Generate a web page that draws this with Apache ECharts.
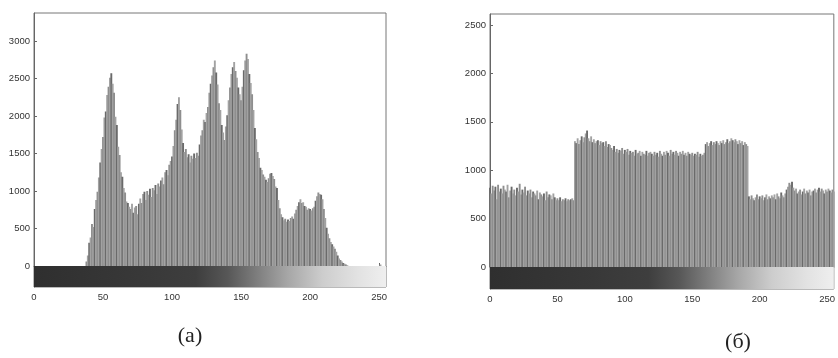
<!DOCTYPE html>
<html>
<head>
<meta charset="utf-8">
<script src="https://cdn.jsdelivr.net/npm/echarts@6/dist/echarts.min.js"></script>
<style>
html,body{margin:0;padding:0;background:#fff;}
#c{width:838px;height:358px;}
</style>
</head>
<body>
<div id="c"></div>
<script>
// Gray-level bins 0..255
const xTicks = [0, 50, 100, 150, 200, 250];
const yTicksA = [0, 500, 1000, 1500, 2000, 2500, 3000];
const yTicksB = [0, 500, 1000, 1500, 2000, 2500];
const captionA = '(a)';
const captionB = '(б)';

// Histogram (a): pixel counts per gray level
const histA = [
  0,0,0,0,0,0,0,0,0,0,
  0,0,0,0,0,0,0,0,0,0,
  0,0,0,0,0,0,0,0,0,0,
  0,0,0,0,0,0,0,0,60,140,
  310,380,560,520,760,880,990,1180,1380,1560,
  1720,1980,2060,2280,2390,2510,2570,2430,2310,1990,
  1880,1590,1480,1250,1190,1040,980,860,840,790,
  760,830,710,780,800,690,830,900,840,960,
  990,880,1000,950,1030,920,1040,1010,1080,960,
  1100,1060,1140,1180,1090,1250,1280,1210,1350,1400,
  1460,1600,1810,1950,2160,2250,2080,1820,1640,1520,
  1560,1450,1490,1380,1470,1430,1500,1440,1510,1470,
  1620,1740,1810,1950,1920,2040,2120,2310,2430,2540,
  2650,2740,2580,2420,2170,2080,1880,1780,1680,1860,
  2010,2210,2380,2560,2650,2720,2600,2510,2380,2290,
  2210,2390,2610,2740,2830,2760,2560,2440,2290,2080,
  1840,1690,1520,1440,1310,1280,1220,1190,1150,1120,
  1170,1230,1240,1200,1160,1060,1040,880,770,690,
  650,610,630,590,620,600,640,660,630,700,
  750,800,850,890,840,850,800,790,750,770,
  760,740,770,790,870,930,980,960,950,890,
  760,640,510,430,370,320,290,260,230,190,
  140,100,80,60,40,30,20,10,0,0,
  0,0,0,0,0,0,0,0,0,0,
  0,0,0,0,0,0,0,0,0,0,
  0,20,0,0,0,0
];

// Histogram (б): pixel counts per gray level
const histB = [
  820,760,840,790,830,700,850,780,810,760,
  840,800,780,850,720,790,830,760,800,740,
  820,780,860,750,800,770,830,740,790,760,
  800,720,780,760,740,790,700,770,750,730,
  760,690,780,720,750,740,700,760,720,690,
  710,690,720,680,700,690,710,680,700,690,
  700,710,690,1300,1280,1330,1270,1310,1350,1290,
  1340,1380,1410,1330,1300,1350,1290,1320,1280,1300,
  1310,1260,1300,1280,1290,1250,1300,1240,1270,1260,
  1230,1210,1250,1190,1220,1180,1210,1200,1230,1170,
  1210,1190,1220,1160,1200,1180,1190,1150,1210,1170,
  1180,1200,1150,1190,1170,1160,1200,1150,1180,1190,
  1170,1150,1190,1160,1180,1140,1200,1170,1150,1190,
  1160,1200,1180,1150,1210,1170,1190,1160,1200,1180,
  1150,1190,1170,1200,1160,1180,1150,1190,1170,1160,
  1180,1150,1170,1160,1190,1140,1170,1150,1160,1180,
  1270,1290,1250,1280,1300,1260,1290,1270,1300,1280,
  1260,1300,1280,1310,1270,1290,1320,1280,1300,1330,
  1310,1290,1320,1300,1270,1310,1280,1300,1260,1290,
  1270,1250,730,700,740,710,690,720,750,700,
  730,710,740,690,720,750,700,730,710,740,
  720,750,700,760,730,710,770,740,720,760,
  800,830,870,850,880,820,790,810,760,780,
  800,750,780,810,760,790,770,800,740,780,
  790,810,770,800,820,780,810,790,760,800,
  780,810,790,770,800,780
];

// Depth (in count units) of the gray-scale strip drawn under each axis
const stripDepthA = -280;
const stripDepthB = -227;
const yMaxA = 3373;
const yMaxB = 2614;

const chart = echarts.init(document.getElementById('c'), null, {renderer: 'canvas'});

const toPairs = arr => arr.map((v, i) => [i, v]);
const FONT = 'Liberation Sans';

function barColor(p) {
  const k = p.dataIndex % 4;
  return k === 0 ? '#6a6a6a' : (k === 2 ? '#8e8e8e' : '#a2a2a2');
}

const stripGradient = new echarts.graphic.LinearGradient(0, 0, 1, 0, [
  {offset: 0.0, color: '#2f2f2f'},
  {offset: 0.30, color: '#383838'},
  {offset: 0.46, color: '#3e3e3e'},
  {offset: 0.55, color: '#575757'},
  {offset: 0.63, color: '#7c7c7c'},
  {offset: 0.72, color: '#a6a6a6'},
  {offset: 0.82, color: '#cdcdcd'},
  {offset: 0.92, color: '#e2e2e2'},
  {offset: 1.0, color: '#efefef'}
]);

const plain = v => String(v);

function xAxisDef(gi) {
  return {
    gridIndex: gi, type: 'value', min: 0, max: 255,
    axisLine: {show: true, lineStyle: {color: '#666', width: 1}},
    axisTick: {show: true, inside: true, length: 3, customValues: xTicks, lineStyle: {color: '#666'}},
    axisLabel: {customValues: xTicks, formatter: plain, margin: 5, color: '#333', fontSize: 9.5, fontFamily: FONT},
    splitLine: {show: false}
  };
}
function yAxisDef(gi, min, max, ticks) {
  return {
    gridIndex: gi, type: 'value', min: min, max: max,
    axisLine: {show: true, lineStyle: {color: '#666', width: 1}},
    axisTick: {show: true, inside: true, length: 3, customValues: ticks, lineStyle: {color: '#666'}},
    axisLabel: {customValues: ticks, formatter: plain, margin: 4, color: '#333', fontSize: 9.5, fontFamily: FONT},
    splitLine: {show: false}
  };
}
function histSeries(gi, data, depth) {
  return {
    type: 'bar', xAxisIndex: gi, yAxisIndex: gi,
    data: toPairs(data), barWidth: 1.9, barGap: '-100%',
    itemStyle: {color: barColor},
    animation: false, silent: true,
    markArea: {
      silent: true,
      itemStyle: {color: stripGradient},
      data: [[{xAxis: 0, yAxis: depth}, {xAxis: 255, yAxis: 0}]]
    }
  };
}

chart.setOption({
  animation: false,
  grid: [
    {left: 34, top: 13, width: 352, height: 274, show: true, borderColor: '#777', borderWidth: 1, backgroundColor: 'transparent'},
    {left: 490, top: 14, width: 352, height: 275, show: true, borderColor: '#777', borderWidth: 1, backgroundColor: 'transparent'}
  ],
  xAxis: [xAxisDef(0), xAxisDef(1)],
  yAxis: [yAxisDef(0, stripDepthA, yMaxA, yTicksA), yAxisDef(1, stripDepthB, yMaxB, yTicksB)],
  series: [histSeries(0, histA, stripDepthA), histSeries(1, histB, stripDepthB)],
  graphic: [
    {type: 'text', x: 190, y: 336, style: {text: captionA, font: '22px "Liberation Serif"', fill: '#222', textAlign: 'center', textVerticalAlign: 'middle'}},
    {type: 'text', x: 738, y: 342, style: {text: captionB, font: '22px "Liberation Serif"', fill: '#222', textAlign: 'center', textVerticalAlign: 'middle'}}
  ]
});
</script>
</body>
</html>
